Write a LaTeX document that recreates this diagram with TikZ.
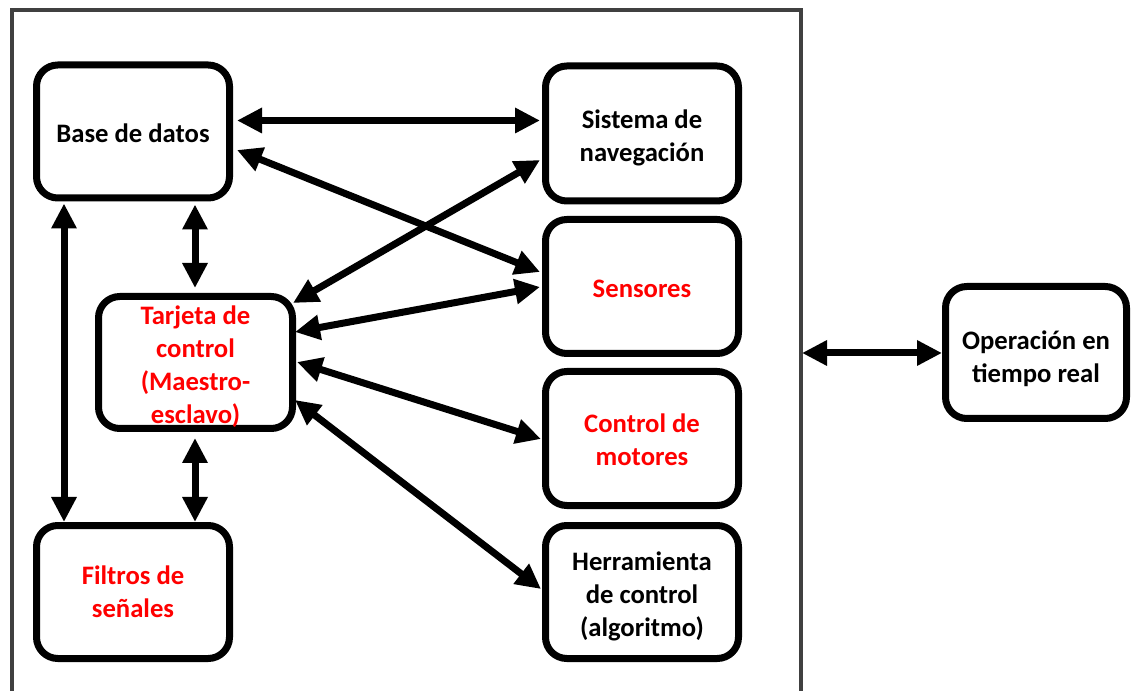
\documentclass[tikz,border=0pt]{standalone}
\usepackage{fontspec}
\setmainfont{Carlito}
\usetikzlibrary{arrows.meta,calc}
\definecolor{framegrey}{HTML}{404040}
\definecolor{txtred}{HTML}{FF0000}
\tikzset{
  blockbox/.style={draw=black, line width=5.25pt, rounded corners=16pt,
    minimum width=144.75pt, minimum height=99.75pt, inner sep=0pt, fill=white},
  boxtext/.style={inner sep=0pt, align=center, text=black,
    font=\fontsize{20pt}{24.75pt}\selectfont\bfseries},
  redtext/.style={boxtext, text=txtred},
  link/.style={line width=5.25pt,
    {Triangle[length=18.75pt,width=18pt]}-{Triangle[length=18.75pt,width=18pt]}},
  outerframe/.style={draw=framegrey, line width=3pt}
}
\begin{document}
\begin{tikzpicture}[x=0.75pt,y=-0.75pt]
\useasboundingbox (0,0) rectangle (1132,691);
\draw[outerframe] (12,695) -- (12,10) -- (800.5,10) -- (800.5,695);

\node[blockbox, label={[boxtext, yshift=-1.5pt]center:Base de datos}] (base) at (133,131.5) {};
\node[blockbox, minimum height=101.25pt, label={[boxtext, yshift=-3pt]center:Sistema de\\navegación}] (nav) at (642,133.5) {};
\node[blockbox, minimum height=100.5pt, label={[redtext, yshift=-1.5pt]center:Sensores}] (sens) at (642,286.5) {};
\node[blockbox, minimum height=100.5pt, label={[redtext, yshift=-0.75pt]center:Control de\\motores}] (mot) at (642,438.5) {};
\node[blockbox, label={[boxtext, yshift=-3pt]center:Herramienta\\de control\\(algoritmo)}] (herr) at (642,592) {};
\node[blockbox, minimum width=145.5pt, minimum height=99pt, label={[redtext, yshift=-3pt]center:Tarjeta de\\control\\(Maestro-\\esclavo)}] (tarj) at (195.5,362.5) {};
\node[blockbox, label={[redtext]center:Filtros de\\señales}] (filt) at (133,592) {};
\node[blockbox, minimum width=135.75pt, minimum height=99pt, label={[boxtext, yshift=-4.5pt]center:Operación en\\tiempo real}] (oper) at (1036,352.5) {};
\coordinate (frameR) at (802,353);

\draw[link] ($(base.east)+(4,-11)$) -- ($(nav.west)+(-2,-13)$);
\draw[link] ($(base.east)+(4,18.5)$) -- ($(sens.west)+(-2,-14.5)$);
\draw[link] ($(tarj.east)+(-3,-59.5)$) -- ($(nav.west)+(-2,26.5)$);
\draw[link] ($(tarj.east)+(-1,-30.5)$) -- ($(sens.west)+(-2,0.5)$);
\draw[link] ($(tarj.east)+(1,-0.5)$) -- ($(mot.west)+(-1,0.5)$);
\draw[link] ($(tarj.east)+(-1,37.5)$) -- ($(herr.west)+(-1,-3)$);
\draw[link] ($(base.south)+(62,3)$) -- ($(tarj.north)+(-0.5,-5)$);
\draw[link] ($(base.south)+(-69,2)$) -- ($(filt.north)+(-69,0)$);
\draw[link] ($(tarj.south)+(-0.5,6)$) -- ($(filt.north)+(62,0)$);
\draw[link] (frameR) -- ($(oper.west)+(0,0.5)$);
\end{tikzpicture}
\end{document}
